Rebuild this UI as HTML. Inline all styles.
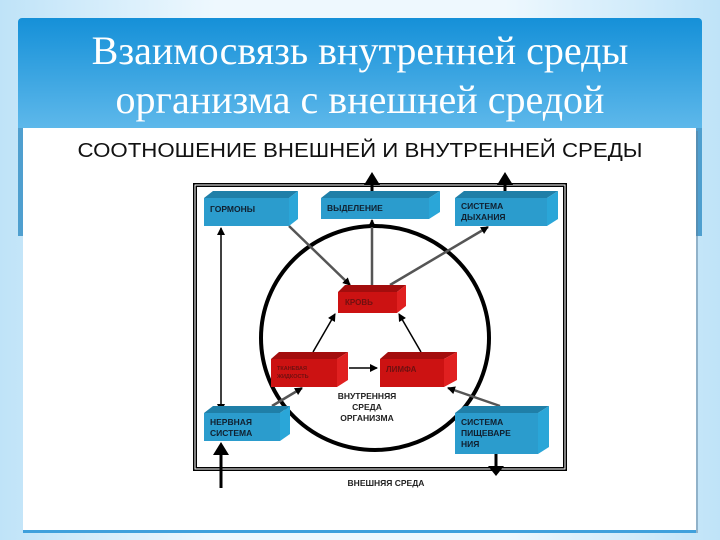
<!DOCTYPE html>
<html><head><meta charset="utf-8"><style>
html,body{margin:0;padding:0;width:720px;height:540px;overflow:hidden;background:linear-gradient(90deg,#bfe3f8,#eef8fe 30%,#eef8fe 70%,#bfe3f8);}
</style></head><body>
<svg width="720" height="540" viewBox="0 0 720 540" xmlns="http://www.w3.org/2000/svg" style="position:absolute;left:0;top:0">
<defs>
<linearGradient id="hg" x1="0" y1="0" x2="0" y2="1">
<stop offset="0" stop-color="#1590d8"/><stop offset="1" stop-color="#6cc0ee"/>
</linearGradient>
<marker id="a" markerWidth="8" markerHeight="8" refX="7" refY="4" orient="auto" markerUnits="userSpaceOnUse"><path d="M0,0 L8,4 L0,8 z" fill="#000"/></marker>
</defs>
<rect x="18" y="18" width="684" height="132" rx="4" fill="url(#hg)"/>
<rect x="18" y="128" width="684" height="108" fill="#4f9fcf"/>
<text x="360" y="64" text-anchor="middle" font-family="Liberation Serif,serif" font-size="40" fill="#fff">Взаимосвязь внутренней среды</text>
<text x="360" y="113" text-anchor="middle" font-family="Liberation Serif,serif" font-size="40" fill="#fff">организма с внешней средой</text>
<rect x="26" y="131" width="672" height="402" fill="#5d7f99" opacity="0.5"/>
<rect x="23" y="128" width="673" height="402" fill="#fff"/>
<rect x="23" y="530" width="673" height="3" fill="#3fa0dc"/>
<text x="360" y="157" text-anchor="middle" font-family="Liberation Sans,sans-serif" font-size="20" textLength="565" lengthAdjust="spacingAndGlyphs" fill="#111">СООТНОШЕНИЕ ВНЕШНЕЙ И ВНУТРЕННЕЙ СРЕДЫ</text>
<g fill="none" stroke="#000">
<rect x="195" y="185" width="370" height="284" stroke-width="4"/>
<rect x="195" y="185" width="370" height="284" stroke="#fff" stroke-width="1"/>
<ellipse cx="375" cy="338" rx="114" ry="112" stroke-width="4"/>
</g>
<g stroke="#000" stroke-width="3">
<line x1="372" y1="197" x2="372" y2="182"/><line x1="505" y1="197" x2="505" y2="182"/>
<line x1="221" y1="488" x2="221" y2="452"/><line x1="496" y1="454" x2="496" y2="468"/>
</g>
<g fill="#000">
<path d="M364,185 L372,172 L380,185z"/><path d="M497,185 L505,172 L513,185z"/>
<path d="M213,455 L221,442 L229,455z"/><path d="M488,466 L496,476 L504,466z"/>
</g>
<g stroke="#555" stroke-width="2.5" fill="none">
<line x1="289" y1="226" x2="350" y2="285" marker-end="url(#a)"/>
<line x1="372" y1="285" x2="372" y2="220" marker-end="url(#a)"/>
<line x1="390" y1="285" x2="488" y2="227" marker-end="url(#a)"/>
<line x1="272" y1="406" x2="302" y2="388" marker-end="url(#a)"/>
<line x1="500" y1="406" x2="448" y2="388" marker-end="url(#a)"/>
</g>
<g stroke="#000" stroke-width="1.5" fill="none">
<line x1="221" y1="300" x2="221" y2="228" marker-end="url(#a)"/>
<line x1="221" y1="300" x2="221" y2="411" marker-end="url(#a)"/>
<line x1="313" y1="352" x2="335" y2="314" marker-end="url(#a)"/>
<line x1="421" y1="352" x2="399" y2="314" marker-end="url(#a)"/>
<line x1="349" y1="368" x2="377" y2="368" marker-end="url(#a)"/>
</g>
<!-- blue boxes -->
<g>
<path d="M204,198 L213,191 L298,191 L289,198z" fill="#1f7fa8"/><path d="M289,198 L298,191 L298,219 L289,226z" fill="#2aa6d8"/><rect x="204" y="198" width="85" height="28" fill="#2b9ccd"/>
<path d="M321,198 L330,191 L440,191 L429,198z" fill="#1f7fa8"/><path d="M429,198 L440,191 L440,212 L429,219z" fill="#2aa6d8"/><rect x="321" y="198" width="108" height="21" fill="#2b9ccd"/>
<path d="M455,198 L464,191 L558,191 L547,198z" fill="#1f7fa8"/><path d="M547,198 L558,191 L558,219 L547,226z" fill="#2aa6d8"/><rect x="455" y="198" width="92" height="28" fill="#2b9ccd"/>
<path d="M204,413 L213,406 L290,406 L280,413z" fill="#1f7fa8"/><path d="M280,413 L290,406 L290,434 L280,441z" fill="#2aa6d8"/><rect x="204" y="413" width="76" height="28" fill="#2b9ccd"/>
<path d="M455,413 L464,406 L549,406 L538,413z" fill="#1f7fa8"/><path d="M538,413 L549,406 L549,447 L538,454z" fill="#2aa6d8"/><rect x="455" y="413" width="83" height="41" fill="#2b9ccd"/>
</g>
<!-- red boxes -->
<g>
<path d="M338,292 L345,285 L406,285 L397,292z" fill="#a30d0d"/><path d="M397,292 L406,285 L406,306 L397,313z" fill="#e02020"/><rect x="338" y="292" width="59" height="21" fill="#cc1212"/>
<path d="M271,359 L279,352 L348,352 L337,359z" fill="#a30d0d"/><path d="M337,359 L348,352 L348,380 L337,387z" fill="#e02020"/><rect x="271" y="359" width="66" height="28" fill="#cc1212"/>
<path d="M380,359 L388,352 L457,352 L444,359z" fill="#a30d0d"/><path d="M444,359 L457,352 L457,380 L444,387z" fill="#e02020"/><rect x="380" y="359" width="64" height="28" fill="#cc1212"/>
</g>
<g font-family="Liberation Sans,sans-serif" font-weight="bold" font-size="8.5" fill="#102030">
<text x="210" y="212">ГОРМОНЫ</text>
<text x="327" y="211">ВЫДЕЛЕНИЕ</text>
<text x="461" y="209">СИСТЕМА</text><text x="461" y="220">ДЫХАНИЯ</text>
<text x="210" y="425">НЕРВНАЯ</text><text x="210" y="436">СИСТЕМА</text>
<text x="461" y="425">СИСТЕМА</text><text x="461" y="436">ПИЩЕВАРЕ</text><text x="461" y="447">НИЯ</text>
</g>
<g font-family="Liberation Sans,sans-serif" font-weight="bold" fill="#701010">
<text x="345" y="305" font-size="8">КРОВЬ</text>
<text x="277" y="370" font-size="5.5">ТКАНЕВАЯ</text><text x="277" y="378" font-size="5.5">ЖИДКОСТЬ</text>
<text x="386" y="372" font-size="8">ЛИМФА</text>
</g>
<g font-family="Liberation Sans,sans-serif" font-weight="bold" font-size="8.5" fill="#222" text-anchor="middle">
<text x="367" y="399">ВНУТРЕННЯЯ</text><text x="367" y="410">СРЕДА</text><text x="367" y="421">ОРГАНИЗМА</text>
<text x="386" y="486">ВНЕШНЯЯ СРЕДА</text>
</g>
</svg>
</body></html>
